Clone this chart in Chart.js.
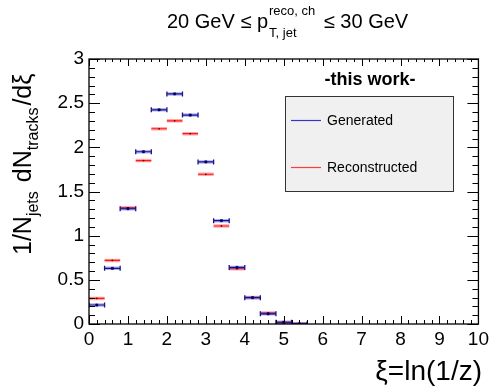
<!DOCTYPE html>
<html>
<head>
<meta charset="utf-8">
<script src="https://cdn.jsdelivr.net/npm/chart.js@4.4.0/dist/chart.umd.min.js"></script>
<style>
  html, body { margin: 0; padding: 0; background: #fff; }
</style>
</head>
<body>
<canvas id="xi-chart" width="493" height="389"></canvas>
<script>
// xi = ln(1/z) bin centres, each bin is 0.4 wide
let xiBins = [0.2, 0.6, 1.0, 1.4, 1.8, 2.2, 2.6, 3.0, 3.4, 3.8, 4.2, 4.6, 5.0, 5.4];
let binHalf = 0.2;
let generated = [0.215, 0.63, 1.305, 1.95, 2.425, 2.605, 2.365, 1.835, 1.17, 0.64, 0.298, 0.115, 0.02, 0.002];
let reconstructed = [0.29, 0.72, 1.315, 1.85, 2.21, 2.30, 2.155, 1.695, 1.11, 0.625, 0.30, 0.125, 0.015, 0.004];
let xTicks = [0, 1, 2, 3, 4, 5, 6, 7, 8, 9, 10];
let yTicks = [0, 0.5, 1, 1.5, 2, 2.5, 3];

const FONT = '"Liberation Sans", Arial, Helvetica, sans-serif';

// horizontal bin-width bars, broken after each bin
function segments(vals) {
    let pts = [];
    xiBins.forEach((c, i) => {
        pts.push({x: c - binHalf, y: vals[i]});
        pts.push({x: c + binHalf, y: vals[i]});
        pts.push({x: c + binHalf, y: null});
    });
    return pts;
}
function binEnds(vals) {
    let pts = [];
    xiBins.forEach((c, i) => {
        pts.push({x: c - binHalf, y: vals[i]});
        pts.push({x: c + binHalf, y: vals[i]});
    });
    return pts;
}
function centres(vals) {
    return xiBins.map((c, i) => ({x: c, y: vals[i]}));
}

// ROOT-like frame, inward ticks and the TLatex style texts
const decor = {
    id: 'decor',
    afterDatasetsDraw(chart) {
        const {ctx, chartArea: a, scales: {x, y}} = chart;
        ctx.save();
        ctx.strokeStyle = '#000';
        ctx.lineWidth = 1;
        ctx.beginPath();
        for (let i = 0; i <= 50; i++) {
            const px = Math.round(x.getPixelForValue(i * 0.2)) + 0.5;
            const major = i % 5 === 0;
            ctx.moveTo(px, a.bottom);
            ctx.lineTo(px, a.bottom - (major ? 8 : 4));
            ctx.moveTo(px, a.top);
            ctx.lineTo(px, a.top + (major ? 7 : 3));
        }
        for (let i = 0; i <= 30; i++) {
            const py = Math.round(y.getPixelForValue(i * 0.1)) + 0.5;
            const len = i % 5 === 0 ? 11 : 6;
            ctx.moveTo(a.left, py);
            ctx.lineTo(a.left + len, py);
            ctx.moveTo(a.right, py);
            ctx.lineTo(a.right - len, py);
        }
        ctx.stroke();
        ctx.lineWidth = 1.3;
        ctx.strokeRect(a.left, a.top, a.right - a.left, a.bottom - a.top);
        ctx.restore();
    },
    afterDraw(chart) {
        const ctx = chart.ctx;
        ctx.save();
        ctx.fillStyle = '#000';
        ctx.textBaseline = 'alphabetic';
        ctx.textAlign = 'left';

        // title: 20 GeV <= p_{T, jet}^{reco, ch} <= 30 GeV
        let tx = 167;
        ctx.font = '20px ' + FONT;
        ctx.fillText('20 GeV \u2264 p', tx, 28);
        tx += ctx.measureText('20 GeV \u2264 p').width + 1;
        ctx.font = '13px ' + FONT;
        ctx.fillText('reco, ch', tx, 15);
        ctx.fillText('T, jet', tx, 37);
        tx += Math.max(ctx.measureText('reco, ch').width, ctx.measureText('T, jet').width) + 3;
        ctx.font = '20px ' + FONT;
        ctx.fillText(' \u2264 30 GeV', tx, 28);

        // y axis title, reads bottom to top
        ctx.save();
        ctx.translate(31, 255);
        ctx.rotate(-Math.PI / 2);
        const parts = [['1/N', 0], ['jets', 1], [' dN', 0], ['tracks', 1], ['/d\u03be', 0]];
        let px = 0;
        parts.forEach(([s, sub]) => {
            ctx.font = (sub ? '16px ' : '25px ') + FONT;
            ctx.fillText(s, px, sub ? 7 : 0);
            px += ctx.measureText(s).width + (sub ? 2 : 0);
        });
        ctx.restore();

        // x axis title
        ctx.font = '28px ' + FONT;
        ctx.textAlign = 'right';
        ctx.fillText('\u03be=ln(1/z)', 482, 380);

        // legend box
        ctx.fillStyle = '#f0f0f0';
        ctx.fillRect(285, 96, 169, 96);
        ctx.strokeStyle = '#333';
        ctx.lineWidth = 1;
        ctx.strokeRect(285.5, 96.5, 168, 95);
        ctx.lineWidth = 1.2;
        ctx.strokeStyle = '#3434c8';
        ctx.beginPath(); ctx.moveTo(291, 120.5); ctx.lineTo(321, 120.5); ctx.stroke();
        ctx.strokeStyle = '#ff3b3b';
        ctx.beginPath(); ctx.moveTo(291, 167.5); ctx.lineTo(321, 167.5); ctx.stroke();
        ctx.fillStyle = '#000';
        ctx.textAlign = 'left';
        ctx.textBaseline = 'middle';
        ctx.font = '14px ' + FONT;
        ctx.fillText('Generated', 327, 121);
        ctx.fillText('Reconstructed', 327, 168);

        ctx.font = 'bold 18px ' + FONT;
        ctx.textAlign = 'center';
        ctx.fillText('-this work-', 370, 80);
        ctx.restore();
    }
};

let chartXi = document.getElementById('xi-chart').getContext('2d');

let myChartXi = new Chart(chartXi, {
    type: 'line',
    data: {
        datasets: [
            {   // generated: centre markers
                data: centres(generated),
                showLine: false,
                pointStyle: 'rect',
                pointRadius: 1.6,
                backgroundColor: '#00006e',
                borderColor: '#00006e',
                borderWidth: 0.5
            },
            {   // generated: bin edge caps
                data: binEnds(generated),
                showLine: false,
                pointStyle: 'line',
                rotation: 90,
                pointRadius: 2.5,
                borderColor: '#14148c',
                borderWidth: 1.3
            },
            {   // generated: bar
                data: segments(generated),
                borderColor: '#14148c',
                borderWidth: 1.2,
                pointRadius: 0,
                spanGaps: false
            },
            {
                data: segments(generated),
                borderColor: 'rgba(40, 40, 200, 0.35)',
                borderWidth: 3.5,
                pointRadius: 0,
                spanGaps: false
            },
            {   // reconstructed: centre dot
                data: centres(reconstructed),
                showLine: false,
                pointRadius: 0.9,
                backgroundColor: '#7a0000',
                borderWidth: 0
            },
            {   // reconstructed: bar
                data: segments(reconstructed),
                borderColor: '#ff1a1a',
                borderWidth: 1.1,
                pointRadius: 0,
                spanGaps: false
            },
            {
                data: segments(reconstructed),
                borderColor: 'rgba(255, 40, 40, 0.4)',
                borderWidth: 3.5,
                pointRadius: 0,
                spanGaps: false
            }
        ]
    },
    options: {
        responsive: false,
        animation: false,
        events: [],
        layout: { padding: { top: 59, right: 11, left: 0, bottom: 0 } },
        plugins: { legend: { display: false }, tooltip: { enabled: false } },
        scales: {
            x: {
                type: 'linear',
                min: 0,
                max: 10,
                afterFit: (s) => { s.height = 65; },
                afterBuildTicks: (s) => { s.ticks = xTicks.map(v => ({value: v})); },
                grid: { display: false, drawTicks: false },
                border: { display: false },
                ticks: { color: '#000', padding: 4, maxRotation: 0, font: { family: FONT, size: 19 } }
            },
            y: {
                min: 0,
                max: 3,
                afterFit: (s) => { s.width = 89; },
                afterBuildTicks: (s) => { s.ticks = yTicks.map(v => ({value: v})); },
                grid: { display: false, drawTicks: false },
                border: { display: false },
                ticks: {
                    color: '#000', padding: 5, font: { family: FONT, size: 19 },
                    callback: (v) => String(v)
                }
            }
        }
    },
    plugins: [decor]
});
</script>
</body>
</html>
